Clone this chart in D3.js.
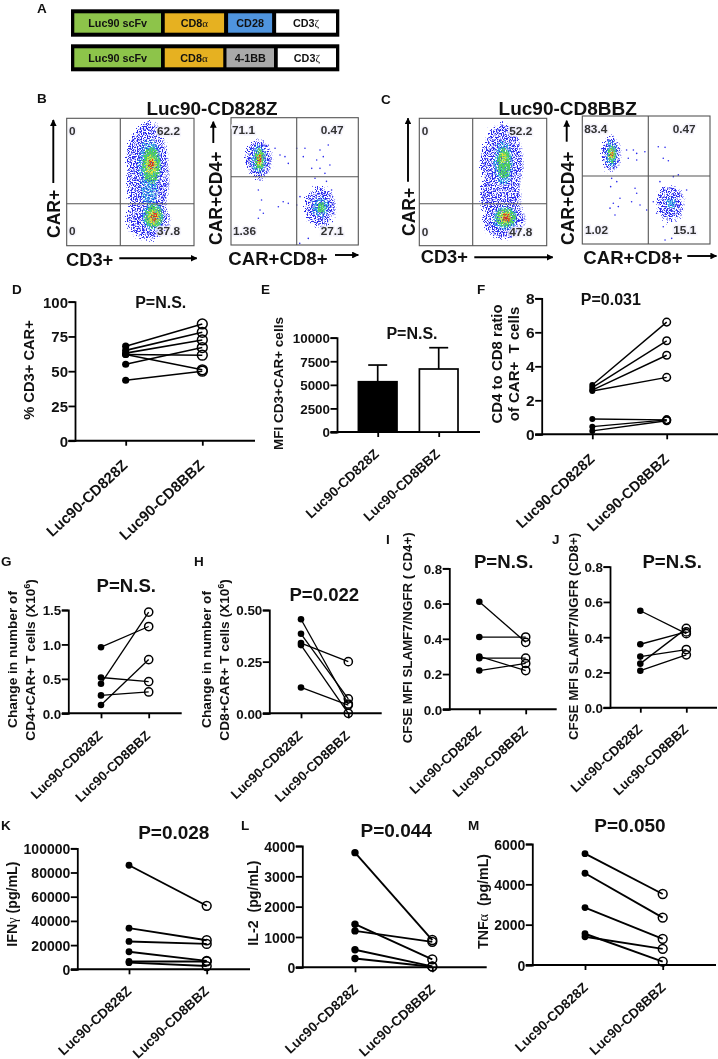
<!DOCTYPE html>
<html><head><meta charset="utf-8">
<script src="https://cdn.jsdelivr.net/npm/d3@7"></script>
<style>html,body{margin:0;padding:0;background:#fff}svg{display:block;filter:blur(.3px)}text{font-family:"Liberation Sans",Arial,sans-serif;font-weight:700;fill:#111}</style>
</head><body><svg id="c" width="718" height="1059"></svg>
<script>
// ---- data ----
const categories=["Luc90-CD828Z","Luc90-CD8BBZ"];
const constructOne=["Luc90 scFv","CD8|α","CD28","CD3|ζ"];
const constructTwo=["Luc90 scFv","CD8|α","4-1BB","CD3|ζ"];
const constructOneStops=[[3.2,35.5],[36.9,59],[60.5,76.9],[78.4,100.7]];
const constructTwoStops=[[3.2,35.5],[36.9,58.7],[59.9,77.6],[79,100.7]];
const constructColoursOne=["#8dc44a","#e6b121","#4f94de","#ffffff"];
const constructColoursTwo=["#8dc44a","#e6b121","#a9a9a9","#ffffff"];

const dLeft=[68,65,63,62,62,55,43.5], dRight=[84,78,72.5,61.5,51,67,50];
const eMeans=[5330,6680], eErrors=[1770,2260];
const fLeft=[2.9,2.75,2.6,2.55,0.9,0.45,0.2], fRight=[6.6,5.5,4.65,3.35,0.85,0.85,0.8];
const gLeft=[0.96,0.43,0.52,0.26,0.12], gRight=[1.26,1.47,0.46,0.31,0.78];
const hLeft=[0.455,0.385,0.34,0.33,0.125], hRight=[0.045,0.07,0.25,0.0,0.04];
const iLeft=[0.61,0.41,0.30,0.29,0.22], iRight=[0.38,0.41,0.22,0.29,0.26];
const jLeft=[0.55,0.36,0.29,0.25,0.21], jRight=[0.42,0.43,0.33,0.45,0.30];
const kLeft=[86000,34000,23000,14500,6500,5500], kRight=[52500,24000,21000,7000,6500,2700];
const lLeft=[3780,1420,1200,580,290], lRight=[900,260,840,30,20];
const mLeft=[5520,4550,2850,1550,1400], mRight=[3520,2350,1300,170,800];

// flow cytometry: density layers, [x%, y% from top, rx%, ry%]
const b1Blue=[[65,46,16,43],[65,78.5,17,16],[64,30,16,22]];
const b1Cyan=[[66,35,9,18],[65.5,56,6.5,13],[68.6,77,8.4,10.5]];
const b1Green=[[66.7,36.6,7,14],[68.6,77,7,9]];
const b1Yellow=[[66.7,36.6,4.5,8],[68.6,77.7,4.8,6]];
const b1Red=[[66.7,36,2.2,3.5],[69,77.2,2.4,3.8]];
const b2Blue=[[22.8,32.7,10,15.2],[71.2,70.4,11.8,15.2]];
const b2Cyan=[[22.8,32.7,5.8,11],[71.2,70.4,6.5,7.3]];
const b2Green=[[22.8,32.7,3.7,8.4],[71.2,70.4,3.1,4.2]];
const b2Yellow=[[22.8,32.7,2.4,5.8]];
const b2Red=[[22.8,32.7,1.3,3.7]];
const b2Strays=[[38.5,29.3],[42.4,30.6],[34.6,24],[45,35.9],[51.6,24],[58.1,24],[56.8,30.6],[76.4,21.5],[72.5,30.6],[67.3,33.2],[63.4,39.8],[73.8,43.7],[77.7,37.2],[69.9,39.8],[69.9,25.4],[22.8,49],[21.5,56.8],[24,64.7],[22.8,72.5],[21.5,79],[25.4,75],[41,66],[37.2,70],[45,67.3],[51.6,68.6],[54.2,62],[66,47.6],[75,50],[79,56.8],[54,98.7],[60.7,94.8]];
const c1Blue=[[66,35.3,16.2,30],[64.7,61.5,15.7,18.3],[67.3,79.8,16.2,14.4]];
const c1Cyan=[[66.8,35.3,7.3,17],[68,78.5,9.2,9.2]];
const c1Green=[[66.8,35.3,5.2,11.8],[68,77.7,7.9,7.3]];
const c1Yellow=[[66.5,31.4,2.4,3.9],[68,77.7,4.7,4.7]];
const c1Red=[[68.6,78,2.9,3.4]];
const c2Blue=[[23.5,29.7,7.3,13],[70,68.2,10.4,13.5]];
const c2Cyan=[[23.5,29.7,4.4,9.9],[70,68.2,3.9,4.7]];
const c2Green=[[23.5,29.7,2.9,6.5]];
const c2Yellow=[[23.5,29.7,1.8,4.2]];
const c2Red=[[23.5,29.7,1,2.1]];
const c2Strays=[[34.7,26.6],[40,26.6],[42.6,29.2],[49,27.9],[36,33],[42.6,34.4],[59.5,24],[64.8,24.5],[63.4,33],[67.4,35],[75.2,46],[71.3,47.4],[63.4,56.5],[60.8,51.3],[23,48.7],[22.2,55.2],[27,51.3],[29.5,64.3],[24.3,68.2],[21.7,72],[28.2,70.8],[41.3,56.5],[42.6,60.4],[38.6,67],[45.2,69.5],[50.4,73.4],[25.6,77.3],[63.4,86.5],[64.8,96.9],[70,95.6],[58.2,76],[55.6,67],[81.7,57.8]];
const densityColours=["#2a2aee","#2fb0e0","#4fd05a","#e8e23c","#e02a20"];

// ---- drawing ----
const svg=d3.select("#c");
const defs=svg.append("defs");
[[16,.8,3,7,3.1],[10,.7,5,5,2.1],[8,.7,7,5,1.6],[6,.8,11,5,2],[5,.8,13,5,1.9]].forEach((p,i)=>{
  const f=defs.append("filter").attr("id","dens"+i).attr("x","-40%").attr("y","-40%").attr("width","180%").attr("height","180%").attr("color-interpolation-filters","sRGB");
  f.append("feTurbulence").attr("type","fractalNoise").attr("baseFrequency",p[1]).attr("numOctaves",2).attr("seed",p[2]).attr("result","n");
  f.append("feDisplacementMap").attr("in","SourceGraphic").attr("in2","n").attr("scale",p[0]).attr("xChannelSelector","R").attr("yChannelSelector","G").attr("result","d");
  f.append("feColorMatrix").attr("in","n").attr("type","matrix").attr("values",`0 0 0 0 0 0 0 0 0 0 0 0 0 0 0 ${p[3]} 0 0 0 ${-p[4]}`).attr("result","m");
  f.append("feComposite").attr("in","d").attr("in2","m").attr("operator","in");
});

function T(x,y,s,size,o={}){
  const t=svg.append("text").attr("x",x).attr("y",y).attr("font-size",size)
    .attr("text-anchor",o.anchor||"start");
  if(o.rot!==undefined) t.attr("transform",`rotate(${o.rot} ${x} ${y})`);
  if(o.fill) t.style("fill",o.fill);
  if(o.halo) t.attr("stroke","#f1f0fb").attr("stroke-width",3).attr("stroke-opacity",.8).attr("paint-order","stroke");
  rich(t,s,size);
  return t;
}
// "^" starts a superscript run, "|" starts a Greek symbol run
function rich(t,s,size){
  const parts=s.split(/(\|.|\^.)/);
  let shift=0;
  parts.forEach(p=>{
    if(!p) return;
    if(p[0]==="|"){ const tp=t.append("tspan").text(p[1]).style("font-family","'Liberation Serif',serif").style("font-weight","400");
      tp.attr("font-size",size*1.02);
      if(shift){tp.attr("dy",-shift);shift=0;} }
    else if(p[0]==="^"){ t.append("tspan").text(p[1]).attr("font-size",size*.62).attr("dy",-size*.38); shift=-size*.38; }
    else { const tp=t.append("tspan").text(p); if(shift){tp.attr("dy",-shift);shift=0;} }
  });
}
// A
function construct(labels,stops,cols,top,bottom){
  const x=d3.scaleLinear().domain([3.2,100.7]).range([74.3,336]);
  svg.append("rect").attr("x",71).attr("y",top-4).attr("width",268.3).attr("height",bottom-top+8).attr("fill","#000");
  labels.forEach((l,i)=>{
    const a=x(stops[i][0]), b=x(stops[i][1]);
    svg.append("rect").attr("x",a).attr("y",top).attr("width",b-a).attr("height",bottom-top).attr("fill",cols[i]);
    T((a+b)/2,(top+bottom)/2+4,l,10.8,{anchor:"middle"});
  });
}
construct(constructOne,constructOneStops,constructColoursOne,13.3,32.7);
construct(constructTwo,constructTwoStops,constructColoursTwo,48.3,67.3);

// panel letters
[["A",37,13],["B",37,103],["C",381,104],["D",12,294],["E",261,294],["F",477,294],["G",1,566],["H",194,566],["I",386,544],["J",552,544],["K",1,830],["L",241,830],["M",468,830]]
  .forEach(d=>T(d[1],d[2],d[0],13.5));

// flow plots
function flow(o){
  const x=d3.scaleLinear().domain([0,100]).range([o.x0,o.x1]);
  const y=d3.scaleLinear().domain([0,100]).range([o.y0,o.y1]);
  const clipId="clip"+o.id;
  defs.append("clipPath").attr("id",clipId).append("rect").attr("x",o.x0).attr("y",o.y0).attr("width",o.x1-o.x0).attr("height",o.y1-o.y0);
  const g=svg.append("g").attr("clip-path",`url(#${clipId})`);
  o.layers.forEach((ls,i)=>{
    const lg=g.append("g").attr("filter",`url(#dens${i})`);
    lg.selectAll("ellipse").data(ls).join("ellipse")
      .attr("cx",d=>x(d[0])).attr("cy",d=>y(d[1]))
      .attr("rx",d=>x(d[2])-x(0)).attr("ry",d=>y(d[3])-y(0))
      .attr("fill",densityColours[i]);
  });
  if(o.strays) g.selectAll("circle").data(o.strays).join("circle")
      .attr("cx",d=>x(d[0])).attr("cy",d=>y(d[1])).attr("r",.8).attr("fill",densityColours[0]);
  const col="#555";
  svg.append("rect").attr("x",o.x0).attr("y",o.y0).attr("width",o.x1-o.x0).attr("height",o.y1-o.y0).attr("fill","none").attr("stroke",col).attr("stroke-width",1.1);
  svg.append("line").attr("x1",o.dx).attr("x2",o.dx).attr("y1",o.y0).attr("y2",o.y1).attr("stroke",col).attr("stroke-width",1.1);
  svg.append("line").attr("x1",o.x0).attr("x2",o.x1).attr("y1",o.dy).attr("y2",o.dy).attr("stroke",col).attr("stroke-width",1.1);
  o.labels.forEach(l=>T(l[0],l[1],l[2],11.8,{fill:"#333",halo:true}));
}
flow({id:"b1",x0:66.7,x1:194,y0:118.3,y1:245.7,dx:120.3,dy:203.7,layers:[b1Blue,b1Cyan,b1Green,b1Yellow,b1Red],
  labels:[[69,135,"0"],[157,135,"62.2"],[69,235,"0"],[157,235,"37.8"]]});
flow({id:"b2",x0:231,x1:358.3,y0:117.7,y1:245,dx:296.7,dy:176.7,layers:[b2Blue,b2Cyan,b2Green,b2Yellow,b2Red],strays:b2Strays,
  labels:[[232,134.3,"71.1"],[320.7,134.3,"0.47"],[233,235,"1.36"],[320.7,235,"27.1"]]});
flow({id:"c1",x0:419.3,x1:546.7,y0:118.3,y1:245.7,dx:472.7,dy:203.7,layers:[c1Blue,c1Cyan,c1Green,c1Yellow,c1Red],
  labels:[[421.7,135,"0"],[509.3,135,"52.2"],[421.7,236,"0"],[509.3,236,"47.8"]]});
flow({id:"c2",x0:582.3,x1:710,y0:116,y1:244,dx:648.3,dy:176,layers:[c2Blue,c2Cyan,c2Green,c2Yellow,c2Red],strays:c2Strays,
  labels:[[584.3,133.3,"83.4"],[672.7,133.3,"0.47"],[585,234.3,"1.02"],[673.3,234.3,"15.1"]]});

// flow titles, labels, arrows
defs.append("marker").attr("id","ah").attr("viewBox","0 0 10 10").attr("refX",9).attr("refY",5).attr("markerWidth",3.6).attr("markerHeight",3.6).attr("orient","auto").attr("markerUnits","strokeWidth")
  .append("path").attr("d","M0,0L10,5L0,10z").attr("fill","#000");
function arrow(x1,y1,x2,y2){ svg.append("line").attr("x1",x1).attr("y1",y1).attr("x2",x2).attr("y2",y2).attr("stroke","#000").attr("stroke-width",1.9).attr("marker-end","url(#ah)"); }
T(212,114.5,"Luc90-CD828Z",18.9,{anchor:"middle"});
T(567.7,115,"Luc90-CD8BBZ",19,{anchor:"middle"});
T(60,238,"CAR+",17.5,{rot:-90}); arrow(53.3,183,53.3,120);
T(66,265.7,"CD3+",18.3); arrow(119.3,258.3,196.7,258.3);
T(221.7,245,"CAR+CD4+",17.5,{rot:-90}); arrow(213.3,143,213.3,121.7);
T(228.3,265,"CAR+CD8+",18.6); arrow(335,255,358.3,255);
T(415,236,"CAR+",17.5,{rot:-90}); arrow(408,181.7,408,118.3);
T(420.7,262.7,"CD3+",18.3); arrow(474.3,257.3,552.7,257.3);
T(574,245,"CAR+CD4+",17.5,{rot:-90}); arrow(566.7,141.7,566.7,120.7);
T(583.3,264.3,"CAR+CD8+",18.6); arrow(687.3,256,716.5,256);

// shared axes
function axes(o){
  const x=d3.scalePoint().domain(categories).range([o.c1,o.c2]);
  const y=d3.scaleLinear().domain(o.domain).range([o.yB,o.yT]);
  const ay=svg.append("g").attr("transform",`translate(${o.x0},0)`)
    .call(d3.axisLeft(y).tickValues(o.ticks).tickSize(o.tick||6.5).tickPadding(o.pad||.5).tickFormat(o.fmt||(d=>d)));
  ay.selectAll("path,line").attr("stroke","#000").attr("stroke-width",o.aw||1.8);
  ay.selectAll("text").attr("font-size",o.tf).attr("font-family",null).attr("dy","0.36em");
  ay.attr("font-family",null);
  const ax=svg.append("g").attr("transform",`translate(0,${o.yB})`)
    .call(d3.axisBottom(x).tickSize(5).tickPadding(0));
  ax.select(".domain").remove();
  ax.attr("font-family",null);
  ax.selectAll("line").attr("stroke","#000").attr("stroke-width",o.aw||1.8);
  ax.selectAll("text").attr("font-size",o.xf).attr("font-family",null).attr("text-anchor","end")
    .attr("y",0).attr("dy",0).attr("transform",`translate(${o.xdx},${o.xdy}) rotate(-43)`);
  svg.append("line").attr("x1",o.x0-(o.tick||6.5)).attr("x2",o.xEnd).attr("y1",y(0)).attr("y2",y(0)).attr("stroke","#000").attr("stroke-width",(o.aw||1.8)+.2);
  return {x,y};
}
function paired(o){
  const {x,y}=axes(o);
  const rows=o.left.map((v,i)=>[v,o.right[i]]);
  const g=svg.append("g");
  g.selectAll("line").data(rows).join("line")
    .attr("x1",x(categories[0])).attr("x2",x(categories[1]))
    .attr("y1",d=>y(d[0])).attr("y2",d=>y(d[1]))
    .attr("stroke","#000").attr("stroke-width",o.lw);
  g.selectAll("circle.a").data(o.left).join("circle").attr("class","a")
    .attr("cx",x(categories[0])).attr("cy",d=>y(d)).attr("r",o.r).attr("fill","#000");
  g.selectAll("circle.b").data(o.right).join("circle").attr("class","b")
    .attr("cx",x(categories[1])).attr("cy",d=>y(d)).attr("r",o.ro).attr("fill","none").attr("stroke","#000").attr("stroke-width",o.sw||1.5);
}
paired({left:dLeft,right:dRight,domain:[0,100],ticks:[0,25,50,75,100],x0:75,xEnd:255,yT:301.7,yB:440.7,c1:125.7,c2:202.3,tf:15,xf:15,xdx:2.3,xdy:25.8,r:3.6,ro:4.9,lw:1.6});
T(34,370,"% CD3+ CAR+",14.7,{rot:-90,anchor:"middle"});
T(160.7,308,"P=N.S.",16,{anchor:"middle"});

// E bars
{
  const o={domain:[0,10000],ticks:[0,2500,5000,7500,10000],x0:337,xEnd:480,yT:337.7,yB:432,c1:377.7,c2:438.7,tf:13.4,xf:13.5,xdx:1.5,xdy:23};
  const {x,y}=axes(o);
  const g=svg.append("g");
  g.selectAll("rect").data(eMeans).join("rect")
    .attr("x",(d,i)=>x(categories[i])-19.3).attr("width",38.6).attr("y",d=>y(d)).attr("height",d=>y(0)-y(d))
    .attr("fill",(d,i)=>i?"#fff":"#000").attr("stroke","#000").attr("stroke-width",1.7);
  eMeans.forEach((m,i)=>{
    const cx=x(categories[i]);
    g.append("line").attr("x1",cx).attr("x2",cx).attr("y1",y(m)).attr("y2",y(m+eErrors[i])).attr("stroke","#000").attr("stroke-width",1.7);
    g.append("line").attr("x1",cx-9.5).attr("x2",cx+9.5).attr("y1",y(m+eErrors[i])).attr("y2",y(m+eErrors[i])).attr("stroke","#000").attr("stroke-width",1.7);
  });
  T(282.7,383.5,"MFI CD3+CAR+ cells",13.5,{rot:-90,anchor:"middle"});
  T(412,339,"P=N.S.",16,{anchor:"middle"});
}
paired({left:fLeft,right:fRight,domain:[0,8],ticks:[0,2,4,6,8],x0:541.7,xEnd:718,yT:298.3,yB:434.3,c1:592.3,c2:666.7,tf:15.5,xf:14.5,xdx:2.7,xdy:26,r:3,ro:3.8,lw:1.4});
T(501.7,364,"CD4 to CD8 ratio",15,{rot:-90,anchor:"middle"});
T(519.3,364,"of CAR+\u00a0 T cells",15,{rot:-90,anchor:"middle"});
T(610.8,305,"P=0.031",16,{anchor:"middle"});

const f2=d=>d3.format(".1f")(d), f3=d=>d3.format(".2f")(d);
paired({left:gLeft,right:gRight,domain:[0,1.5],ticks:[0,0.5,1,1.5],fmt:f2,x0:68.3,xEnd:181.7,yT:610,yB:713.3,c1:101,c2:148.7,tf:13.4,xf:13.3,xdx:2,xdy:23.5,r:3.3,ro:4.1,lw:1.3});
T(17.3,659.5,"Change in number of",13.7,{rot:-90,anchor:"middle"});
T(35,660,"CD4+CAR+ T cells (X10^6)",13.7,{rot:-90,anchor:"middle"});
T(126.3,591.7,"P=N.S.",18.6,{anchor:"middle"});
paired({left:hLeft,right:hRight,domain:[0,0.5],ticks:[0,0.25,0.5],fmt:f3,x0:269.3,xEnd:381.7,yT:610,yB:713.3,c1:301,c2:348.3,tf:13.4,xf:13.3,xdx:2,xdy:23.5,r:3.3,ro:4.1,lw:1.3});
T(211,659.5,"Change in number of",13.7,{rot:-90,anchor:"middle"});
T(229.3,660,"CD8+CAR+ T cells (X10^6)",13.7,{rot:-90,anchor:"middle"});
T(324.3,600.7,"P=0.022",18.6,{anchor:"middle"});
paired({left:iLeft,right:iRight,domain:[0,0.8],ticks:[0,0.2,0.4,0.6,0.8],fmt:f2,x0:449.3,xEnd:556.7,yT:568.3,yB:709.3,c1:479.3,c2:525.7,tf:13.4,xf:13.3,xdx:2.4,xdy:22.4,r:3.3,ro:4.1,lw:1.3});
T(412.3,743.3,"CFSE MFI SLAMF7/NGFR ( CD4+)",13.3,{rot:-90});
T(503.7,568.3,"P=N.S.",18.6,{anchor:"middle"});
paired({left:jLeft,right:jRight,domain:[0,0.8],ticks:[0,0.2,0.4,0.6,0.8],fmt:f2,x0:610,xEnd:717,yT:566.7,yB:707.7,c1:640.3,c2:686.3,tf:13.4,xf:13.3,xdx:2.4,xdy:22.4,r:3.3,ro:4.1,lw:1.3});
T(578.3,740,"CFSE MFI SLAMF7/NGFR (CD8+)",13.3,{rot:-90});
T(672.2,568.3,"P=N.S.",18.6,{anchor:"middle"});

paired({left:kLeft,right:kRight,domain:[0,100000],ticks:[0,20000,40000,60000,80000,100000],x0:77.3,xEnd:250,yT:848.3,yB:969.3,c1:129,c2:206.7,tf:14,xf:13.5,xdx:2.7,xdy:22.7,r:3.4,ro:4.4,lw:1.9});
T(16.7,946.7,"IFN|γ (pg/mL)",14.2,{rot:-90});
T(173.8,839.3,"P=0.028",19,{anchor:"middle"});
paired({left:lLeft,right:lRight,domain:[0,4000],ticks:[0,1000,2000,3000,4000],x0:302.3,xEnd:486.7,yT:846,yB:967.3,c1:355,c2:432.3,tf:14,xf:13.5,xdx:3.3,xdy:23,r:3.7,ro:4.4,lw:1.9});
T(258.3,945.7,"IL-2\u00a0 (pg/mL)",14.2,{rot:-90});
T(396.2,836.7,"P=0.044",19,{anchor:"middle"});
paired({left:mLeft,right:mRight,domain:[0,6000],ticks:[0,2000,4000,6000],x0:532.3,xEnd:716,yT:844,yB:965,c1:585,c2:662.7,tf:14,xf:13.5,xdx:3.3,xdy:23.7,r:3.4,ro:4.4,lw:1.9});
T(488.3,949,"TNF|α\u00a0 (pg/mL)",14.2,{rot:-90});
T(630,832.3,"P=0.050",19,{anchor:"middle"});
</script></body></html>
